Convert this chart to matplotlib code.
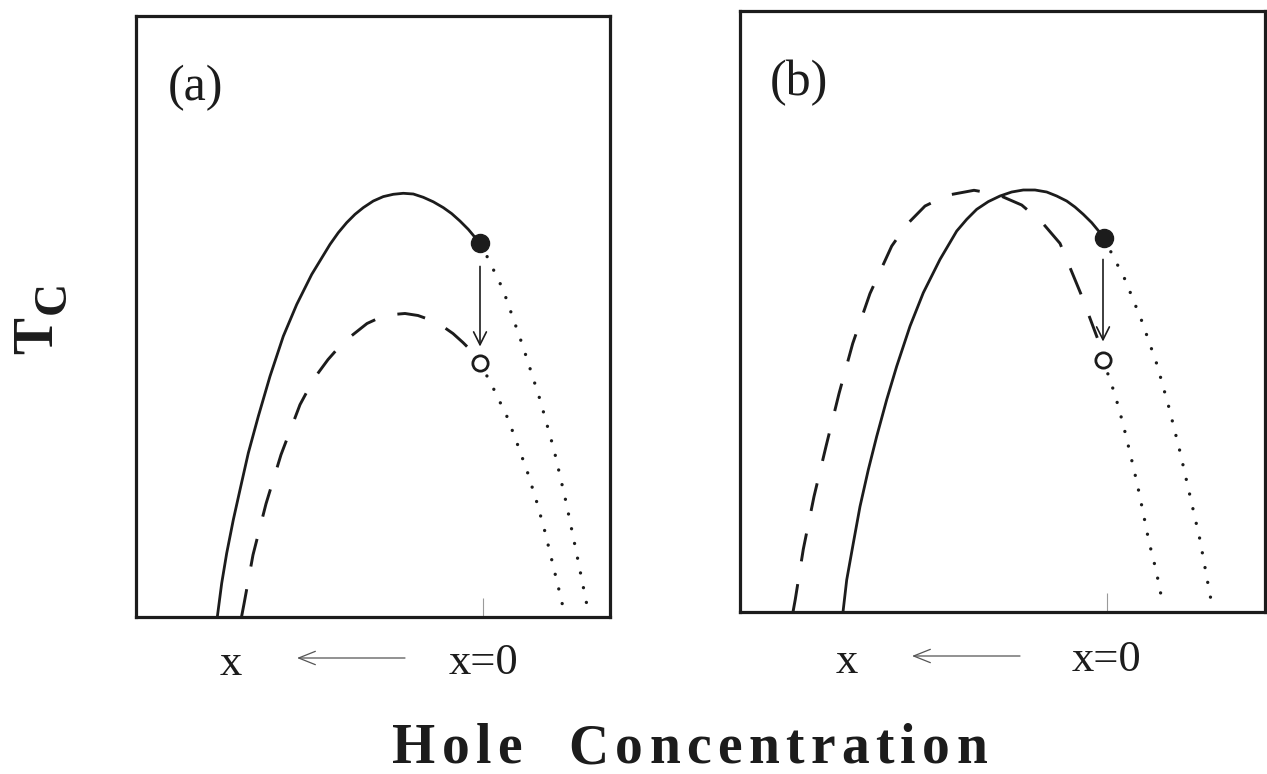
import matplotlib
matplotlib.use("Agg")
import matplotlib.pyplot as plt

plt.rcParams['font.family'] = ['Liberation Serif', 'DejaVu Serif']

W, H = 1267, 774

# ---- panel (a) data (x: hole conc. relative to x=0, y: Tc, arbitrary units)
a_solid_x = [-2.657, -2.613, -2.563, -2.497, -2.43, -2.347, -2.247, -2.13, -1.997, -1.863,
             -1.713, -1.53, -1.447, -1.363, -1.28, -1.197, -1.097, -0.997, -0.897, -0.797,
             -0.697, -0.597, -0.497, -0.397, -0.313, -0.23, -0.147, -0.063, -0.03]
a_solid_y = [0.00, 0.337, 0.637, 0.97, 1.27, 1.637, 2.003, 2.403, 2.803, 3.12,
             3.42, 3.72, 3.837, 3.937, 4.02, 4.087, 4.153, 4.197, 4.22, 4.23,
             4.223, 4.19, 4.145, 4.087, 4.027, 3.953, 3.87, 3.77, 3.73]
a_upper_dot_x = [-0.03, 0.04, 0.20, 0.40, 0.57, 0.71, 0.83, 0.935, 1.035]
a_upper_dot_y = [3.73, 3.60, 3.27, 2.70, 2.17, 1.67, 1.15, 0.64, 0.14]
a_dash_x = [-2.415, -2.39, -2.30, -2.17, -2.02, -1.83, -1.69, -1.55, -1.40, -1.16,
            -1.03, -0.90, -0.78, -0.65, -0.51, -0.40, -0.30, -0.20, -0.10]
a_dash_y = [0.00, 0.13, 0.62, 1.13, 1.62, 2.12, 2.38, 2.57, 2.74, 2.93,
            2.99, 3.02, 3.03, 3.01, 2.96, 2.90, 2.83, 2.74, 2.64]
a_lower_dot_x = [-0.03, 0.11, 0.245, 0.35, 0.45, 0.54, 0.62, 0.69, 0.76, 0.795]
a_lower_dot_y = [2.54, 2.27, 1.99, 1.71, 1.43, 1.14, 0.85, 0.56, 0.27, 0.12]
a_filled = (-0.03, 3.73)
a_open = (-0.03, 2.54)
a_arrow = (-0.03, 3.50, 2.70)

# ---- panel (b) data
b_solid_x = [-2.64, -2.603, -2.537, -2.47, -2.387, -2.303, -2.203, -2.103, -1.97, -1.837,
             -1.67, -1.503, -1.403, -1.303, -1.187, -1.07, -0.953, -0.837, -0.72, -0.603,
             -0.503, -0.403, -0.32, -0.237, -0.153, -0.07, -0.03]
b_solid_y = [0.00, 0.32, 0.687, 1.053, 1.42, 1.753, 2.12, 2.453, 2.853, 3.187,
             3.52, 3.803, 3.92, 4.02, 4.097, 4.153, 4.193, 4.213, 4.213, 4.193,
             4.153, 4.103, 4.043, 3.97, 3.887, 3.787, 3.73]
b_dash_x = [-3.14, -3.117, -3.037, -2.93, -2.81, -2.68, -2.543, -2.37, -2.153, -2.00,
            -1.82, -1.60, -1.33, -1.10, -0.853, -0.65, -0.47, -0.263, -0.097]
b_dash_y = [0.00, 0.127, 0.627, 1.153, 1.653, 2.18, 2.68, 3.18, 3.653, 3.87,
            4.053, 4.16, 4.21, 4.17, 4.063, 3.89, 3.68, 3.18, 2.737]
b_upper_dot_x = [-0.03, 0.18, 0.35, 0.50, 0.62, 0.73, 0.83, 0.93, 1.01, 1.04]
b_upper_dot_y = [3.73, 3.32, 2.90, 2.47, 2.04, 1.60, 1.16, 0.72, 0.28, 0.12]
b_lower_dot_x = [-0.04, 0.08, 0.16, 0.23, 0.30, 0.36, 0.42, 0.49, 0.55]
b_lower_dot_y = [2.52, 2.17, 1.88, 1.59, 1.29, 1.00, 0.70, 0.42, 0.12]
b_filled = (-0.03, 3.73)
b_open = (-0.04, 2.52)
b_arrow = (-0.04, 3.52, 2.70)

INK = '#1c1c1c'
DASHES = (0, (9.7, 7.9))
DOTS = (0, (0.01, 4.5))


def fx(px):
    return px / W


def fy(py):
    return 1 - py / H


fig = plt.figure(figsize=(W / 100, H / 100), dpi=100)
ax_a = fig.add_axes([fx(136), fy(617), (610 - 136) / W, (617 - 16) / H])
ax_b = fig.add_axes([fx(740), fy(612), (1265 - 740) / W, (612 - 11) / H])

panels = [
    (ax_a, (-3.47, 1.27), a_solid_x, a_solid_y, a_dash_x, a_dash_y,
     a_upper_dot_x, a_upper_dot_y, a_lower_dot_x, a_lower_dot_y,
     a_filled, a_open, a_arrow),
    (ax_b, (-3.67, 1.58), b_solid_x, b_solid_y, b_dash_x, b_dash_y,
     b_upper_dot_x, b_upper_dot_y, b_lower_dot_x, b_lower_dot_y,
     b_filled, b_open, b_arrow),
]

for (ax, xlim, sx, sy, dx, dy, ux, uy, lx, ly, filled, opn, arr) in panels:
    ax.plot(sx, sy, color=INK, lw=2.0, solid_joinstyle='round')
    ax.plot(dx, dy, color=INK, lw=2.1, linestyle=DASHES)
    ax.plot(ux, uy, color=INK, lw=2.4, linestyle=DOTS, dash_capstyle='round')
    ax.plot(lx, ly, color=INK, lw=2.4, linestyle=DOTS, dash_capstyle='round')
    ax.plot(*filled, 'o', ms=13, color=INK, zorder=5)
    ax.plot(*opn, 'o', ms=11, mfc='white', mec=INK, mew=2, zorder=5)
    ax.annotate('', xy=(arr[0], arr[2]), xytext=(arr[0], arr[1]),
                arrowprops=dict(arrowstyle='->', lw=1.2, color=INK,
                                mutation_scale=23, shrinkA=0, shrinkB=0))
    ax.set_xlim(*xlim)
    ax.set_ylim(0, 6.0)
    ax.set_xticks([0])
    ax.set_xticklabels([''])
    ax.set_yticks([])
    ax.tick_params(axis='x', direction='in', length=14, width=0.8, color='#9a9a9a')
    for sp in ax.spines.values():
        sp.set_linewidth(2.3)
        sp.set_color(INK)

# panel labels
fig.text(fx(196), fy(100), '(a)', fontsize=36, ha='center', va='baseline', color=INK)
fig.text(fx(799), fy(95), '(b)', fontsize=36, ha='center', va='baseline', color=INK)

# x / x=0 labels with arrows under each panel
for x_px, x0_px, base_x, base_0, a_from, a_to, a_y in [
        (231, 483, 675, 674, 405, 297, 658),
        (847, 1107, 673, 671, 1020, 912, 656)]:
    fig.text(fx(x_px), fy(base_x), 'x', fontsize=32, ha='center', va='baseline', color=INK)
    fig.text(fx(x0_px), fy(base_0), 'x=0', fontsize=32, ha='center', va='baseline', color=INK)
    ax_a.annotate('', xy=(fx(a_to), fy(a_y)), xycoords='figure fraction',
                  xytext=(fx(a_from), fy(a_y)), textcoords='figure fraction',
                  annotation_clip=False,
                  arrowprops=dict(arrowstyle='->,head_length=0.4,head_width=0.16',
                                  lw=0.9, color='#555555', mutation_scale=30,
                                  shrinkA=0, shrinkB=0))

# y label T_C
fig.text(fx(52), fy(336), 'T', fontsize=40, fontweight='bold', rotation=90,
         rotation_mode='anchor', ha='center', va='baseline', color=INK)
fig.text(fx(65), fy(297.5), 'C', fontsize=33, fontweight='bold', rotation=90,
         rotation_mode='anchor', ha='center', va='baseline', color=INK)

# x label, letter-spaced like the original
label = 'Hole  Concentration'
fs = 40
renderer = fig.canvas.get_renderer()
space_w = 0.25 * fs * 100 / 72
items = []
for ch in label:
    if ch == ' ':
        items.append((None, space_w))
    else:
        t = fig.text(0, fy(763), ch, fontsize=fs, fontweight='bold',
                     ha='left', va='baseline', color=INK)
        items.append((t, t.get_window_extent(renderer).width))
start, end = 392, 987
gap = (end - start - sum(w for _, w in items)) / (len(items) - 1)
x = start
for t, w in items:
    if t is not None:
        t.set_x(fx(x))
    x += w + gap

fig.savefig('out.png', dpi=100)
